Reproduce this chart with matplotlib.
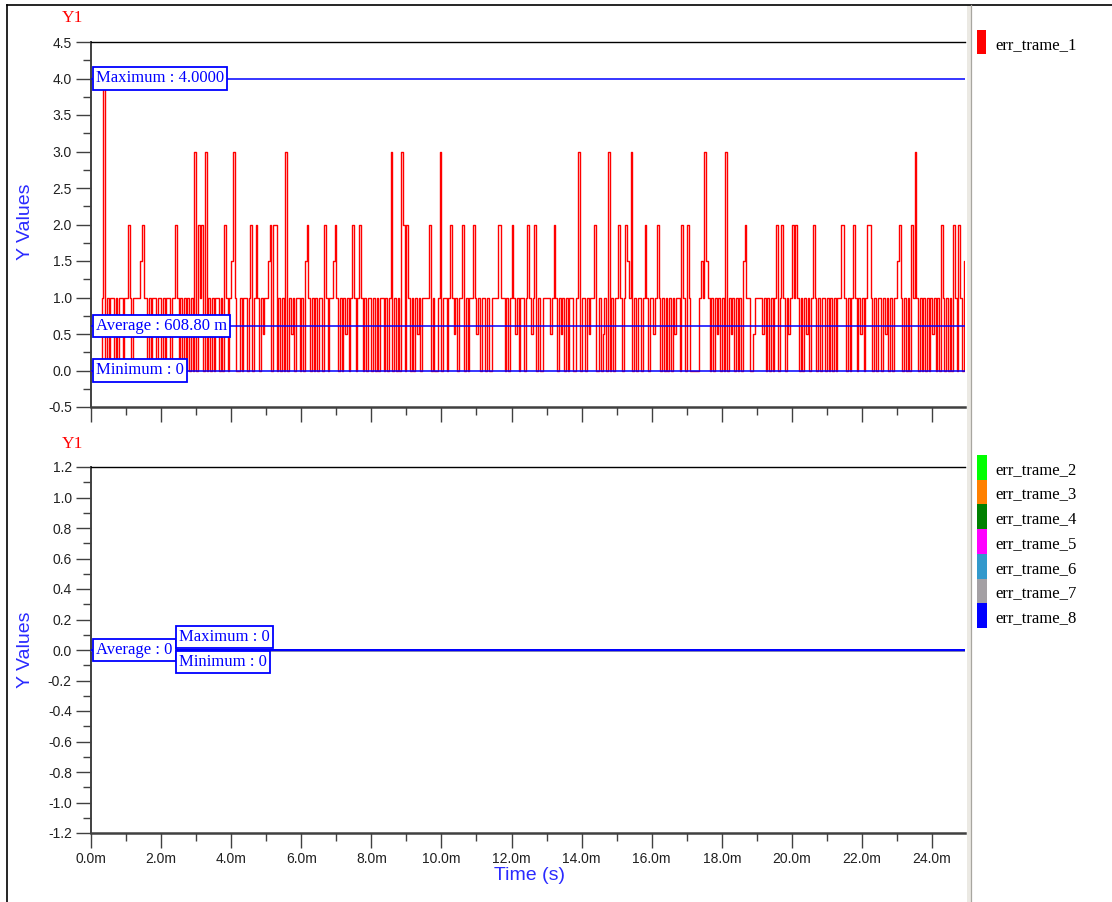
import numpy as np
import matplotlib
matplotlib.use("Agg")
import matplotlib.pyplot as plt
from matplotlib.patches import Rectangle
from matplotlib.lines import Line2D
from matplotlib.ticker import MultipleLocator, FixedLocator, FuncFormatter

# ---------------------------------------------------------------------------
# Data
# ---------------------------------------------------------------------------
SAMPLE_PERIOD_MS = 0.05          # one sample every 50 us
X_END_MS = 24.94                 # right edge of the time axis

# err_trame_1, split into 2.5 ms blocks (50 samples each)
ERR1_00_25 = [0, 0, 0, 0, 0, 0, 1, 4, 0, 1, 0, 1, 1, 0, 1, 0, 1, 1, 0, 1,
              1, 2, 1, 0, 1, 1, 1, 1, 1.5, 2, 1, 1, 0, 1, 0, 1, 1, 0, 1, 1,
              0, 1, 0, 1, 1, 0, 1, 1, 2, 1]
ERR1_25_50 = [0, 1, 0, 1, 0, 1, 0, 1, 0, 3, 0, 2, 1, 2, 0, 3, 0, 1, 0, 1,
              0, 1, 1, 0, 1, 0, 2, 1, 0, 1, 1.5, 3, 1, 0, 0, 1, 0, 1, 1, 0,
              1, 2, 0, 1, 2, 1, 0, 1, 0.5, 1]
ERR1_50_75 = [1, 1.5, 2, 0, 2, 2, 0, 1, 0, 1, 0, 3, 0, 1, 0.5, 1, 0, 1, 1, 0,
              1, 0, 1.5, 2, 1, 0, 1, 0, 1, 0, 1, 1, 0, 2, 1, 0, 1, 1, 1.5, 2,
              1, 0, 1, 0, 1, 0.5, 1, 0, 1, 2]
ERR1_75_100 = [1, 0, 1, 2, 1, 0, 1, 0, 1, 1, 0, 1, 0, 1, 0, 1, 1, 0, 1, 0,
               1, 3, 0, 1, 0, 1, 0, 3, 2, 0, 2, 1, 0, 1, 0, 1, 0.5, 1, 0, 1,
               1, 1, 1, 2, 0, 1, 0, 0, 1, 3]
ERR1_100_125 = [0, 1, 1, 0, 1, 2, 1, 0.5, 1, 0, 1, 1, 2, 0, 1, 0, 1, 1, 2, 1,
                0.5, 1, 0, 1, 1, 0, 1, 0, 0, 1, 1, 1, 2, 2, 1, 1, 0, 1, 0, 1,
                2, 1, 0.5, 1, 0, 1, 1, 0, 1, 2]
ERR1_125_150 = [1, 0.5, 1, 2, 0, 1, 0, 0, 1, 1, 1, 1, 0.5, 1, 2, 1, 0, 1, 0.5, 1,
                0, 1, 0, 1, 1, 0, 0, 1, 3, 0, 1, 1, 0, 1, 0.5, 1, 1, 2, 0, 0,
                1, 0, 0.5, 1, 0, 3, 0, 1, 0, 1]
ERR1_150_175 = [1, 2, 1, 0, 1, 2, 1.5, 1, 3, 0, 1, 0, 1, 1, 0, 1, 2, 1, 0, 1,
                1, 0.5, 1, 2, 1, 0, 1, 0, 1, 0, 1, 0, 1, 0.5, 1, 1, 0, 2, 1, 0,
                2, 1, 0, 0, 0, 0, 0, 1, 1.5, 1]
ERR1_175_200 = [3, 1.5, 1, 0, 1, 0, 1, 0.5, 1, 0, 1, 0, 3, 0, 1, 0.5, 1, 0, 1, 0,
                1, 0, 1.5, 2, 1, 1, 0, 0, 0.5, 1, 1, 1, 1, 0.5, 1, 0, 1, 0, 1, 0,
                1, 2, 0, 1, 2, 1, 0, 1, 0.5, 1]
ERR1_200_225 = [2, 1, 2, 1, 0, 1, 0, 1, 0.5, 1, 0, 1, 2, 1, 0, 1, 0, 1, 1, 0,
                1, 0, 1, 0, 1, 0, 1, 1, 2, 2, 1, 0, 1, 0, 1, 2, 1, 0, 1, 0.5,
                1, 0, 1, 2, 2, 1, 0, 1, 0, 1]
ERR1_225_250 = [1, 0, 1, 0.5, 1, 0, 1, 0, 1, 1, 1.5, 2, 1, 0, 1, 0, 1, 0, 2, 1,
                3, 1, 0, 1, 0, 1, 0, 1, 0, 1, 0.5, 1, 0, 1, 0, 2, 1, 0, 1, 0,
                1, 0, 2, 1, 0, 2, 1, 0, 1.5, 1]

ERR1_BLOCKS = [ERR1_00_25, ERR1_25_50, ERR1_50_75, ERR1_75_100, ERR1_100_125,
               ERR1_125_150, ERR1_150_175, ERR1_175_200, ERR1_200_225, ERR1_225_250]

# Statistics printed on the upper chart
STATS_1 = {"max": 4.0, "avg": 0.6088, "min": 0.0}
STATS_1_TEXT = {"max": "Maximum : 4.0000", "avg": "Average : 608.80 m", "min": "Minimum : 0"}

# Lower chart: seven series that stay at zero over the whole record
LOWER_NAMES = ["err_trame_2", "err_trame_3", "err_trame_4", "err_trame_5",
               "err_trame_6", "err_trame_7", "err_trame_8"]
LOWER_COLORS = ["#00ff00", "#ff8000", "#008000", "#ff00ff",
                "#3399cc", "#a4a0a4", "#0000ff"]
LOWER_VALUES = [0.0, 0.0]        # start / end value of each flat trace
STATS_2 = {"max": 0.0, "avg": 0.0, "min": 0.0}
STATS_2_TEXT = {"max": "Maximum : 0", "avg": "Average : 0", "min": "Minimum : 0"}

UPPER_NAME = "err_trame_1"
UPPER_COLOR = "#ff0000"

X_MAJOR_MS = [0, 2, 4, 6, 8, 10, 12, 14, 16, 18, 20, 22, 24]

# ---------------------------------------------------------------------------
# Figure helpers (pixel layout)
# ---------------------------------------------------------------------------
W, H, DPI = 1112, 902, 100
fig = plt.figure(figsize=(W / DPI, H / DPI), dpi=DPI)
fig.patch.set_facecolor("white")


def fx(px):
    return px / W


def fy(py):
    return 1 - py / H


SANS = ["Liberation Sans", "DejaVu Sans"]
SERIF = ["Liberation Serif", "DejaVu Serif"]
BLUE = "#0000ff"
AX_GREY = "#404040"

# window frame and legend separator
fig.add_artist(Line2D([fx(7), fx(7)], [fy(5), fy(902)], color="black", lw=1.2))
fig.add_artist(Line2D([fx(7), fx(1112)], [fy(5), fy(5)], color="black", lw=1.2))
fig.add_artist(Rectangle((fx(967), 0), fx(5), fy(5), facecolor="#ebe9e3",
                         edgecolor="none", transform=fig.transFigure))
fig.add_artist(Line2D([fx(970.5), fx(970.5)], [0, fy(5)], color="#a8a6a0", lw=0.9))


def make_axes(top_px, bot_px):
    ax = fig.add_axes([fx(91), fy(bot_px), (965 - 91) / W, (bot_px - top_px) / H])
    ax.set_facecolor("white")
    ax.spines["right"].set_visible(False)
    ax.spines["top"].set_color("black")
    ax.spines["top"].set_linewidth(1.0)
    ax.spines["left"].set_color(AX_GREY)
    ax.spines["left"].set_linewidth(1.4)
    ax.spines["bottom"].set_color(AX_GREY)
    ax.spines["bottom"].set_linewidth(1.8)
    ax.set_xlim(0, X_END_MS * 1e-3)
    ax.xaxis.set_major_locator(FixedLocator([v * 1e-3 for v in X_MAJOR_MS]))
    ax.xaxis.set_minor_locator(MultipleLocator(1e-3))
    ax.tick_params(which="major", direction="out", length=10.8, width=1.0,
                   color=AX_GREY, labelsize=10, pad=3, labelcolor="#202020")
    ax.tick_params(which="minor", direction="out", length=5.8, width=1.0, color=AX_GREY)
    ax.tick_params(top=False, right=False)
    return ax


def stat_box(ax, text, yval, dx_px, dy_px):
    ax.annotate(text, xy=(0, yval), xycoords=("axes fraction", "data"),
                xytext=(dx_px * 72 / DPI, dy_px * 72 / DPI), textcoords="offset points",
                ha="left", va="center", fontsize=12, family=SERIF, color=BLUE,
                zorder=6,
                bbox=dict(boxstyle="square,pad=0.2", facecolor="white",
                          edgecolor=BLUE, linewidth=1.3))


# ---------------------------------------------------------------------------
# Upper chart
# ---------------------------------------------------------------------------
ax1 = make_axes(42, 407)
ax1.set_ylim(-0.5, 4.5)
ax1.yaxis.set_major_locator(MultipleLocator(0.5))
ax1.yaxis.set_minor_locator(MultipleLocator(0.25))
ax1.yaxis.set_major_formatter(FuncFormatter(lambda v, p: f"{v:.1f}"))
ax1.tick_params(axis="x", labelbottom=False)
for lab in ax1.get_yticklabels():
    lab.set_fontfamily(SANS)

err1 = np.concatenate([np.asarray(b, dtype=float) for b in ERR1_BLOCKS])
t1 = np.arange(err1.size + 1) * SAMPLE_PERIOD_MS * 1e-3
ax1.plot(t1, np.append(err1, err1[-1]), drawstyle="steps-post",
         color=UPPER_COLOR, lw=1.0, zorder=3)

for key in ("max", "avg", "min"):
    ax1.axhline(STATS_1[key], color=BLUE, lw=1.1, zorder=4)
stat_box(ax1, STATS_1_TEXT["max"], STATS_1["max"], 5, 0)
stat_box(ax1, STATS_1_TEXT["avg"], STATS_1["avg"], 5, 0)
stat_box(ax1, STATS_1_TEXT["min"], STATS_1["min"], 5, 0)

# ---------------------------------------------------------------------------
# Lower chart
# ---------------------------------------------------------------------------
ax2 = make_axes(467, 833)
ax2.set_ylim(-1.2, 1.2)
ax2.yaxis.set_major_locator(MultipleLocator(0.2))
ax2.yaxis.set_minor_locator(MultipleLocator(0.1))
ax2.yaxis.set_major_formatter(FuncFormatter(lambda v, p: f"{v:.1f}" if abs(v) > 1e-9 else "0.0"))
ax2.xaxis.set_major_formatter(FuncFormatter(lambda v, p: f"{v * 1e3:.1f}m"))
for lab in ax2.get_xticklabels() + ax2.get_yticklabels():
    lab.set_fontfamily(SANS)

t_span = [0, X_END_MS * 1e-3]
for name, col in zip(LOWER_NAMES, LOWER_COLORS):
    ax2.plot(t_span, LOWER_VALUES, color=col, lw=1.0, zorder=3)
for key in ("max", "avg", "min"):
    ax2.axhline(STATS_2[key], color=BLUE, lw=1.1, zorder=4)
stat_box(ax2, STATS_2_TEXT["avg"], STATS_2["avg"], 5, 0)
stat_box(ax2, STATS_2_TEXT["max"], STATS_2["max"], 88, 13)
stat_box(ax2, STATS_2_TEXT["min"], STATS_2["min"], 88, -12)

# ---------------------------------------------------------------------------
# Axis titles
# ---------------------------------------------------------------------------
fig.text(fx(72), fy(18), "Y1", color="red", fontsize=12.5, family=SERIF,
         ha="center", va="center")
fig.text(fx(72), fy(444), "Y1", color="red", fontsize=12.5, family=SERIF,
         ha="center", va="center")
fig.text(fx(25), fy(222), "Y Values", color="#2a2aff", fontsize=14, family=SANS,
         rotation=90, ha="center", va="center")
fig.text(fx(25), fy(650), "Y Values", color="#2a2aff", fontsize=14, family=SANS,
         rotation=90, ha="center", va="center")
fig.text(fx(529), fy(876), "Time (s)", color="#2a2aff", fontsize=14, family=SANS,
         ha="center", va="center")

# ---------------------------------------------------------------------------
# Legends (right-hand panel)
# ---------------------------------------------------------------------------
fig.add_artist(Rectangle((fx(977), fy(54)), fx(9), 24 / H, facecolor=UPPER_COLOR,
                         edgecolor="none", transform=fig.transFigure))
fig.text(fx(995), fy(45), UPPER_NAME, fontsize=12, family=SERIF, color="black",
         ha="left", va="center")

row_h = 24.7
for i, (name, col) in enumerate(zip(LOWER_NAMES, LOWER_COLORS)):
    top = 455 + i * row_h
    fig.add_artist(Rectangle((fx(977), fy(top + row_h)), fx(10), row_h / H,
                             facecolor=col, edgecolor="none", transform=fig.transFigure))
    fig.text(fx(995), fy(top + row_h / 2 + 2.5), name, fontsize=12, family=SERIF,
             color="black", ha="left", va="center")

fig.savefig("out.png", dpi=DPI, facecolor="white")
